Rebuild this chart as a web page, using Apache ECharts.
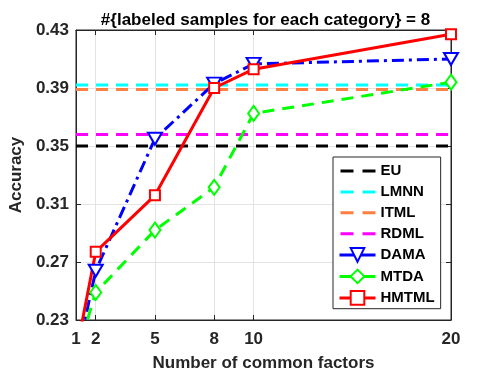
<!DOCTYPE html>
<html>
<head>
<meta charset="utf-8">
<script src="https://cdn.jsdelivr.net/npm/echarts@6/dist/echarts.min.js"></script>
<style>html,body{margin:0;padding:0;background:#fff}#c{width:498px;height:379px}</style>
</head>
<body>
<div id="c"></div>
<script>
// ---- data ----
const xValues = [1, 2, 5, 8, 10, 20];
const xTicks = [1, 2, 5, 8, 10, 20];
const yTicks = [0.23, 0.27, 0.31, 0.35, 0.39, 0.43];
const baselineNames = ['EU', 'LMNN', 'ITML', 'RDML'];
const baselineValues = [0.350, 0.392, 0.389, 0.358];
const damaValues = [0.202, 0.264, 0.355, 0.393, 0.4066, 0.410];
const mtdaValues = [0.204, 0.249, 0.292, 0.3215, 0.3725, 0.394];
const hmtmlValues = [0.207, 0.277, 0.316, 0.390, 0.403, 0.427];

const axisColor = '#262626';
const font = 'Liberation Sans, Arial, sans-serif';
const baselineColors = ['#000000', '#00FFFF', '#FF8040', '#FF00FF'];

function pairs(xs, ys) { return xs.map((x, i) => [x, ys[i]]); }

const series = [];
baselineNames.forEach((n, i) => {
  series.push({
    name: n, type: 'line', symbol: 'none', silent: true,
    data: [[xValues[0], baselineValues[i]], [xValues[xValues.length - 1], baselineValues[i]]],
    lineStyle: { color: baselineColors[i], width: 3, type: [12, 8] },
    itemStyle: { color: baselineColors[i], borderWidth: 0 }
  });
});
series.push({
  name: 'DAMA', type: 'line', data: pairs(xValues, damaValues),
  symbol: 'emptyTriangle', symbolRotate: 180, symbolSize: [14, 12],
  lineStyle: { color: '#0000FF', width: 3, type: [12, 5, 3, 5] },
  itemStyle: { color: '#0000FF', borderWidth: 2.5 }
});
series.push({
  name: 'MTDA', type: 'line', data: pairs(xValues, mtdaValues),
  symbol: 'emptyDiamond', symbolSize: [11, 15],
  lineStyle: { color: '#00FF00', width: 3, type: [12, 8] },
  itemStyle: { color: '#00FF00', borderWidth: 2.5 }
});
series.push({
  name: 'HMTML', type: 'line', data: pairs(xValues, hmtmlValues),
  symbol: 'emptyRect', symbolSize: 10,
  lineStyle: { color: '#FF0000', width: 3, type: 'solid' },
  itemStyle: { color: '#FF0000', borderWidth: 2.5 }
});

const legendData = baselineNames.map(n => ({
    name: n,
    lineStyle: { type: [13, 9], width: 3, dashOffset: -1 },
    itemStyle: { opacity: 0 }
  }))
  .concat(['DAMA', 'MTDA', 'HMTML'].map(n => ({ name: n, lineStyle: { type: 'solid', width: 3 } })));

const chart = echarts.init(document.getElementById('c'), null, { renderer: 'canvas' });
chart.setOption({
  animation: false,
  backgroundColor: '#fff',
  title: {
    text: '#{labeled samples for each category} = 8',
    left: 260.5, textAlign: 'center', top: 7,
    textStyle: { fontFamily: font, fontWeight: 'bold', fontSize: 17, color: '#000' }
  },
  grid: { left: 70, top: 30, right: 47, bottom: 59, show: true, borderColor: axisColor, borderWidth: 1, backgroundColor: '#fff' },
  legend: {
    orient: 'vertical', left: 333, top: 157,
    backgroundColor: '#fff', borderColor: axisColor, borderWidth: 1,
    padding: [6.5, 6, 3, 5], itemGap: 5.9, itemWidth: 36, itemHeight: 17,
    textStyle: { fontFamily: font, fontWeight: 'bold', fontSize: 15, lineHeight: 15, color: '#000' },
    data: legendData
  },
  xAxis: [{
    type: 'value', min: 1, max: 20, position: 'bottom',
    name: 'Number of common factors', nameLocation: 'middle', nameGap: 35,
    nameTextStyle: { fontFamily: font, fontWeight: 'bold', fontSize: 17, color: axisColor },
    axisLine: { show: true, lineStyle: { color: axisColor } },
    axisTick: { show: true, inside: true, length: 5, customValues: xTicks, lineStyle: { color: axisColor } },
    axisLabel: { customValues: xTicks, margin: 11, fontFamily: font, fontWeight: 'bold', fontSize: 17, color: axisColor },
    splitLine: { show: true, lineStyle: { color: '#e3e3e3', width: 1 } }
  }, {
    type: 'value', min: 1, max: 20, position: 'top',
    axisLine: { show: true, lineStyle: { color: axisColor } },
    axisTick: { show: true, inside: true, length: 5, customValues: xTicks, lineStyle: { color: axisColor } },
    axisLabel: { show: false }, splitLine: { show: false }
  }],
  yAxis: [{
    type: 'value', min: 0.23, max: 0.43, position: 'left',
    name: 'Accuracy', nameLocation: 'middle', nameGap: 44,
    nameTextStyle: { fontFamily: font, fontWeight: 'bold', fontSize: 17, color: axisColor },
    axisLine: { show: true, lineStyle: { color: axisColor } },
    axisTick: { show: true, inside: true, length: 5, customValues: yTicks, lineStyle: { color: axisColor } },
    axisLabel: { customValues: yTicks, margin: 7, fontFamily: font, fontWeight: 'bold', fontSize: 17, color: axisColor,
      formatter: v => v.toFixed(2) },
    splitLine: { show: true, lineStyle: { color: '#e3e3e3', width: 1 } }
  }, {
    type: 'value', min: 0.23, max: 0.43, position: 'right',
    axisLine: { show: true, lineStyle: { color: axisColor } },
    axisTick: { show: true, inside: true, length: 5, customValues: yTicks, lineStyle: { color: axisColor } },
    axisLabel: { show: false }, splitLine: { show: false }
  }],
  series: series
});
</script>
</body>
</html>
